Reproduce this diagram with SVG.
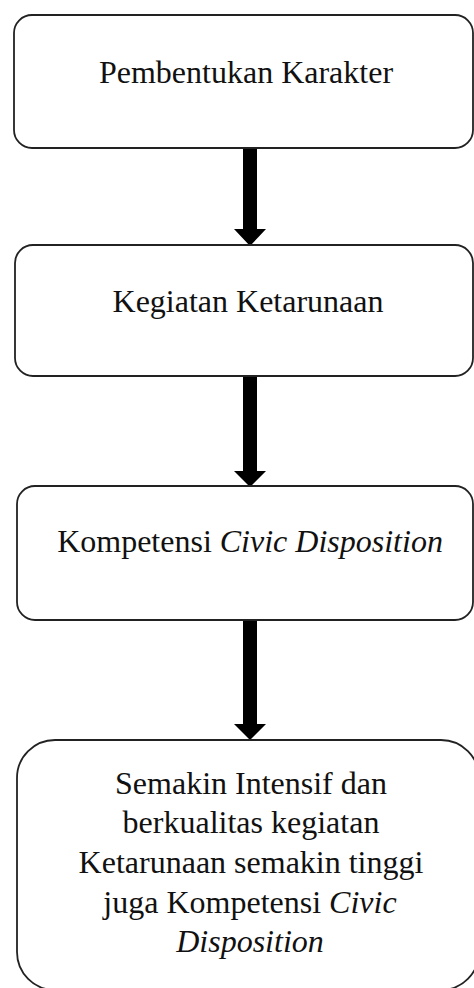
<svg xmlns="http://www.w3.org/2000/svg" width="474" height="988" viewBox="0 0 474 988">
<style>
.box{fill:#fff;stroke:#222;stroke-width:1.8}
.t{font-family:"Liberation Serif","Times New Roman",serif;font-size:32px;fill:#111;text-anchor:middle}
.i{font-style:italic}
.arr{fill:#000}
</style>
<rect width="474" height="988" fill="#fff"/>
<g id="connectors">
<path class="arr" d="M243,148 H257 V229 H266 L250,246 L234,229 H243 Z"/>
<path class="arr" d="M243,376 H257 V471 H266 L250,487 L234,471 H243 Z"/>
<path class="arr" d="M243,620 H257 V724 H266 L250,740 L234,724 H243 Z"/>
</g>
<g id="node1">
<rect class="box" x="14" y="15" width="459" height="133" rx="18"/>
<text class="t" x="246" y="83">Pembentukan Karakter</text>
</g>
<g id="node2">
<rect class="box" x="15" y="245" width="458" height="131" rx="18"/>
<text class="t" x="248" y="312">Kegiatan Ketarunaan</text>
</g>
<g id="node3">
<rect class="box" x="17" y="486" width="456" height="134" rx="18"/>
<text class="t" x="250" y="552">Kompetensi <tspan class="i">Civic Disposition</tspan></text>
</g>
<g id="node4">
<rect class="box" x="17" y="740" width="462" height="250" rx="38"/>
<text class="t" x="251" y="794">Semakin Intensif dan</text>
<text class="t" x="251" y="833">berkualitas kegiatan</text>
<text class="t" x="251" y="873">Ketarunaan semakin tinggi</text>
<text class="t" x="250" y="913">juga Kompetensi <tspan class="i">Civic</tspan></text>
<text class="t i" x="250" y="952">Disposition</text>
</g>
</svg>
